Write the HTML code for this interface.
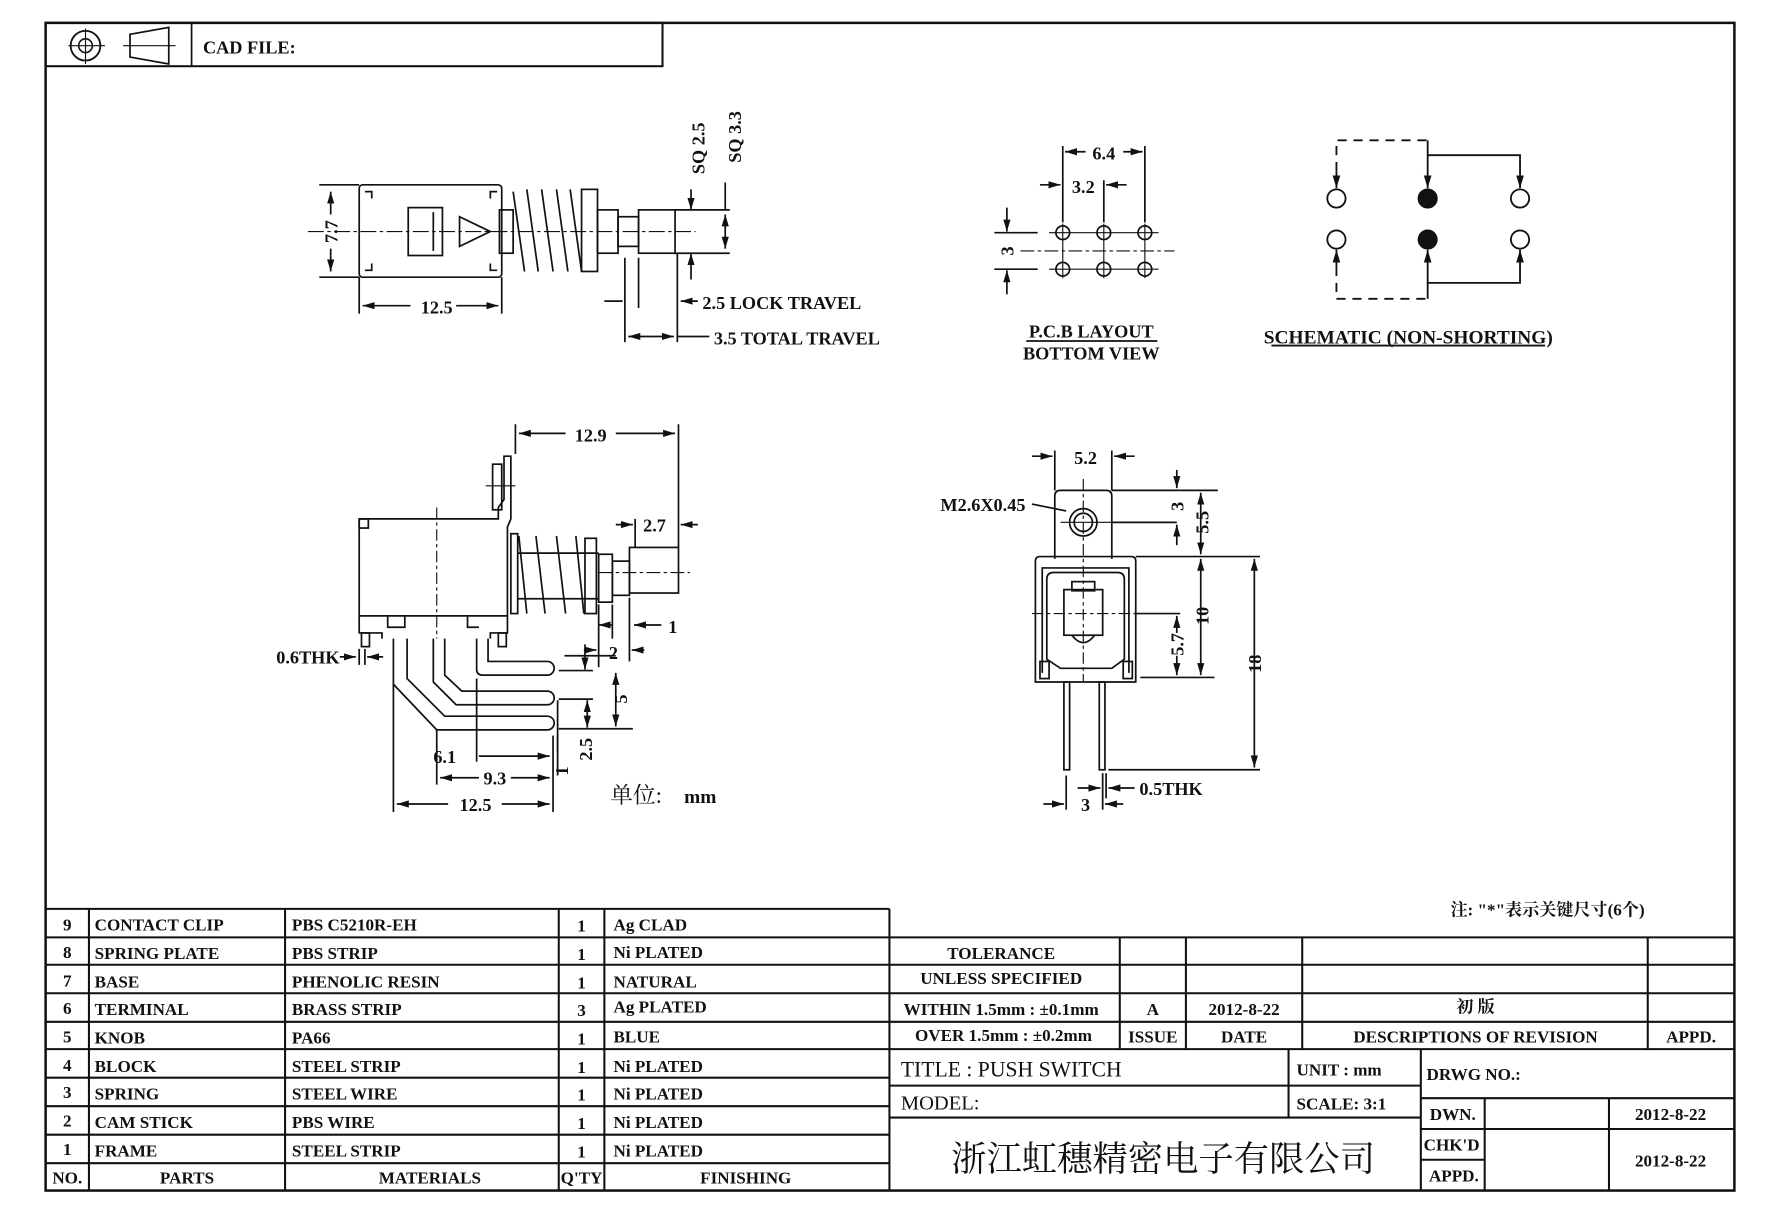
<!DOCTYPE html>
<html><head><meta charset="utf-8"><style>
html,body{margin:0;padding:0;background:#fff;}
svg{display:block;}
text{font-family:"Liberation Serif","Noto Serif CJK SC",serif;font-weight:bold;fill:#111;}
</style></head><body>
<svg width="1788" height="1218" viewBox="0 0 1568 1068" xmlns="http://www.w3.org/2000/svg">
<defs>
<marker id="a" viewBox="0 0 10 10" refX="10" refY="5" markerWidth="7" markerHeight="7" orient="auto-start-reverse"><path d="M0,2 L10,5 L0,8 z" fill="#111"/></marker>
</defs>
<rect width="1568" height="1068" fill="#fff"/>
<g stroke="#111" fill="none">
<rect x="40" y="20" width="1481" height="1024" stroke-width="2.2"/>
<rect x="40" y="20" width="541" height="38" stroke-width="1.8"/>
<line x1="168" y1="20" x2="168" y2="58" stroke-width="1.5"/>
<circle cx="75" cy="40" r="13" stroke-width="1.6"/><circle cx="75" cy="40" r="6" stroke-width="1.4"/>
<line x1="60" y1="40" x2="92" y2="40"/><line x1="75" y1="25" x2="75" y2="56"/>
<path d="M114,30 L148,24 L148,56 L114,50 Z" stroke-width="1.5"/><line x1="108" y1="40" x2="154" y2="40"/>

<g stroke-width="1.8">
<line x1="40" y1="797" x2="780" y2="797"/>
<line x1="40" y1="822" x2="1521" y2="822"/>
<line x1="40" y1="846" x2="1521" y2="846"/>
<line x1="40" y1="871" x2="1521" y2="871"/>
<line x1="40" y1="896" x2="1521" y2="896"/>
<line x1="40" y1="920" x2="1521" y2="920"/>
<line x1="40" y1="945" x2="780" y2="945"/>
<line x1="40" y1="970" x2="780" y2="970"/>
<line x1="40" y1="995" x2="780" y2="995"/>
<line x1="40" y1="1020" x2="780" y2="1020"/>
<line x1="78" y1="797" x2="78" y2="1044"/>
<line x1="250" y1="797" x2="250" y2="1044"/>
<line x1="490" y1="797" x2="490" y2="1044"/>
<line x1="530" y1="797" x2="530" y2="1044"/>
<line x1="780" y1="797" x2="780" y2="1044"/>
<line x1="982" y1="822" x2="982" y2="920"/>
<line x1="1040" y1="822" x2="1040" y2="920"/>
<line x1="1142" y1="822" x2="1142" y2="920"/>
<line x1="1445" y1="822" x2="1445" y2="920"/>
<line x1="780" y1="952" x2="1246" y2="952"/>
<line x1="780" y1="980" x2="1246" y2="980"/>
<line x1="1130" y1="920" x2="1130" y2="980"/>
<line x1="1246" y1="920" x2="1246" y2="1044"/>
<line x1="1246" y1="963" x2="1521" y2="963"/>
<line x1="1246" y1="990" x2="1521" y2="990"/>
<line x1="1246" y1="1017" x2="1302" y2="1017"/>
<line x1="1302" y1="963" x2="1302" y2="1044"/>
<line x1="1411" y1="963" x2="1411" y2="1044"/>
</g>
</g>
<rect x="782" y="848" width="198" height="21" fill="#fff"/>

<g font-size="15">
<text x="59" y="816" text-anchor="middle">9</text><text x="83" y="816">CONTACT CLIP</text><text x="256" y="816">PBS C5210R-EH</text><text x="510" y="817" text-anchor="middle">1</text><text x="538" y="816">Ag CLAD</text>
<text x="59" y="840" text-anchor="middle">8</text><text x="83" y="841">SPRING PLATE</text><text x="256" y="841">PBS STRIP</text><text x="510" y="842" text-anchor="middle">1</text><text x="538" y="840">Ni PLATED</text>
<text x="59" y="865" text-anchor="middle">7</text><text x="83" y="866">BASE</text><text x="256" y="866">PHENOLIC RESIN</text><text x="510" y="867" text-anchor="middle">1</text><text x="538" y="866">NATURAL</text>
<text x="59" y="889" text-anchor="middle">6</text><text x="83" y="890">TERMINAL</text><text x="256" y="890">BRASS STRIP</text><text x="510" y="891" text-anchor="middle">3</text><text x="538" y="888">Ag PLATED</text>
<text x="59" y="914" text-anchor="middle">5</text><text x="83" y="915">KNOB</text><text x="256" y="915">PA66</text><text x="510" y="916" text-anchor="middle">1</text><text x="538" y="914">BLUE</text>
<text x="59" y="939" text-anchor="middle">4</text><text x="83" y="940">BLOCK</text><text x="256" y="940">STEEL STRIP</text><text x="510" y="941" text-anchor="middle">1</text><text x="538" y="940">Ni PLATED</text>
<text x="59" y="963" text-anchor="middle">3</text><text x="83" y="964">SPRING</text><text x="256" y="964">STEEL WIRE</text><text x="510" y="965" text-anchor="middle">1</text><text x="538" y="964">Ni PLATED</text>
<text x="59" y="988" text-anchor="middle">2</text><text x="83" y="989">CAM STICK</text><text x="256" y="989">PBS WIRE</text><text x="510" y="990" text-anchor="middle">1</text><text x="538" y="989">Ni PLATED</text>
<text x="59" y="1013" text-anchor="middle">1</text><text x="83" y="1014">FRAME</text><text x="256" y="1014">STEEL STRIP</text><text x="510" y="1015" text-anchor="middle">1</text><text x="538" y="1014">Ni PLATED</text>
<text x="59" y="1038" text-anchor="middle">NO.</text><text x="164" y="1038" text-anchor="middle">PARTS</text><text x="377" y="1038" text-anchor="middle">MATERIALS</text><text x="510" y="1038" text-anchor="middle">Q'TY</text><text x="654" y="1038" text-anchor="middle">FINISHING</text>

<text x="878" y="841" text-anchor="middle">TOLERANCE</text>
<text x="878" y="863" text-anchor="middle">UNLESS  SPECIFIED</text>
<text x="878" y="890" text-anchor="middle">WITHIN 1.5mm : ±0.1mm</text>
<text x="880" y="913" text-anchor="middle">OVER 1.5mm : ±0.2mm</text>
<text x="1011" y="890" text-anchor="middle">A</text><text x="1011" y="914" text-anchor="middle">ISSUE</text>
<text x="1091" y="890" text-anchor="middle">2012-8-22</text><text x="1091" y="914" text-anchor="middle">DATE</text>
<text x="1294" y="888" text-anchor="middle">初 版</text>
<text x="1294" y="914" text-anchor="middle">DESCRIPTIONS OF REVISION</text>
<text x="1483" y="914" text-anchor="middle">APPD.</text>
<text x="790" y="944" style="font-size:19px;font-weight:normal">TITLE : PUSH SWITCH</text>
<text x="790" y="973" style="font-size:18px;font-weight:normal">MODEL:</text>
<text x="1137" y="943">UNIT :  mm</text>
<text x="1137" y="973">SCALE:  3:1</text>
<text x="1251" y="947">DRWG NO.:</text>
<text x="1274" y="982" text-anchor="middle">DWN.</text>
<text x="1273" y="1009" text-anchor="middle">CHK'D</text>
<text x="1275" y="1036" text-anchor="middle">APPD.</text>
<text x="1465" y="982" text-anchor="middle">2012-8-22</text>
<text x="1465" y="1023" text-anchor="middle">2012-8-22</text>
<text x="1020" y="1027" text-anchor="middle" style="font-size:31px;font-weight:normal;font-family:'Noto Serif CJK SC',serif">浙江虹穗精密电子有限公司</text>
<text x="1272" y="803">注: "*"表示关键尺寸(6个)</text>
<text x="178" y="47" font-size="16">CAD FILE:</text>
</g>

<!-- TOP-LEFT VIEW -->
<g stroke="#111" fill="none" stroke-width="1.5">
<rect x="315" y="162" width="125" height="81" rx="3"/>
<path d="M320,168 h6 v6 M436,168 h-6 v6 M320,237 h6 v-6 M436,237 h-6 v-6"/>
<rect x="358" y="182" width="30" height="42"/><line x1="380" y1="186" x2="380" y2="220"/>
<path d="M403,190 L430,203 L403,216 Z"/>
<rect x="438" y="184" width="12" height="38"/>
<path d="M450,168 L460,238 M462,166 L472,238 M475,166 L485,238 M488,166 L498,238 M500,166 L510,238"/>
<rect x="510" y="166" width="14" height="72"/>
<rect x="524" y="184" width="18" height="38"/>
<rect x="542" y="190" width="18" height="26"/>
<rect x="560" y="184" width="32" height="38"/>
<line x1="270" y1="203" x2="610" y2="203" stroke-dasharray="14,3,3,3" stroke-width="1"/>
<line x1="280" y1="162" x2="315" y2="162"/><line x1="280" y1="243" x2="315" y2="243"/>
<line x1="290" y1="168" x2="290" y2="188" marker-start="url(#a)"/><line x1="290" y1="218" x2="290" y2="238" marker-end="url(#a)"/>
<line x1="315" y1="243" x2="315" y2="275"/><line x1="440" y1="243" x2="440" y2="275"/>
<line x1="318" y1="268" x2="360" y2="268" marker-start="url(#a)"/><line x1="400" y1="268" x2="437" y2="268" marker-end="url(#a)"/>
<line x1="592" y1="184" x2="640" y2="184"/><line x1="592" y1="222" x2="640" y2="222"/>
<line x1="606" y1="166" x2="606" y2="184" marker-end="url(#a)"/><line x1="606" y1="222" x2="606" y2="245" marker-start="url(#a)"/>
<line x1="636" y1="160" x2="636" y2="184"/><line x1="636" y1="188" x2="636" y2="218" marker-start="url(#a)" marker-end="url(#a)"/>
<line x1="548" y1="226" x2="548" y2="300"/><line x1="560" y1="226" x2="560" y2="270"/><line x1="594" y1="222" x2="594" y2="300"/>
<line x1="530" y1="264" x2="546" y2="264"/><line x1="597" y1="264" x2="612" y2="264" marker-start="url(#a)"/>
<line x1="551" y1="295" x2="591" y2="295" marker-start="url(#a)" marker-end="url(#a)"/><line x1="594" y1="295" x2="622" y2="295"/>
</g>
<g font-size="16">
<text x="383" y="275" text-anchor="middle">12.5</text>
<text transform="translate(296,203) rotate(-90)" text-anchor="middle">7.7</text>
<text transform="translate(618,130) rotate(-90)" text-anchor="middle">SQ 2.5</text>
<text transform="translate(650,120) rotate(-90)" text-anchor="middle">SQ 3.3</text>
<text x="616" y="271">2.5 LOCK TRAVEL</text>
<text x="626" y="302">3.5 TOTAL TRAVEL</text>
</g>

<!-- PCB -->
<g stroke="#111" fill="none" stroke-width="1.5">
<circle cx="932" cy="204" r="6"/><circle cx="968" cy="204" r="6"/><circle cx="1004" cy="204" r="6"/>
<circle cx="932" cy="236" r="6"/><circle cx="968" cy="236" r="6"/><circle cx="1004" cy="236" r="6"/>
<path d="M932,196 v48 M968,196 v48 M1004,196 v48 M920,204 h96 M920,236 h96" stroke-width="1"/>
<line x1="895" y1="220" x2="1030" y2="220" stroke-dasharray="12,3,3,3" stroke-width="1"/>
<line x1="872" y1="204" x2="910" y2="204"/><line x1="872" y1="236" x2="910" y2="236"/>
<line x1="883" y1="182" x2="883" y2="203" marker-end="url(#a)"/><line x1="883" y1="258" x2="883" y2="237" marker-end="url(#a)"/>
<line x1="932" y1="128" x2="932" y2="195"/><line x1="1004" y1="128" x2="1004" y2="195"/><line x1="968" y1="158" x2="968" y2="195"/>
<line x1="934" y1="133" x2="952" y2="133" marker-start="url(#a)"/><line x1="985" y1="133" x2="1002" y2="133" marker-end="url(#a)"/>
<line x1="912" y1="162" x2="930" y2="162" marker-end="url(#a)"/><line x1="988" y1="162" x2="970" y2="162" marker-end="url(#a)"/>
<line x1="900" y1="299" x2="1015" y2="299"/>
</g>
<g font-size="16"><text x="968" y="140" text-anchor="middle">6.4</text><text x="950" y="169" text-anchor="middle">3.2</text>
<text transform="translate(889,220) rotate(-90)" text-anchor="middle">3</text>
<text x="957" y="296" text-anchor="middle">P.C.B LAYOUT</text><text x="957" y="315" text-anchor="middle">BOTTOM VIEW</text></g>

<!-- SCHEMATIC -->
<g stroke="#111" fill="none" stroke-width="1.6">
<circle cx="1172" cy="174" r="8"/><circle cx="1333" cy="174" r="8"/><circle cx="1172" cy="210" r="8"/><circle cx="1333" cy="210" r="8"/>
<circle cx="1252" cy="174" r="8" fill="#111"/><circle cx="1252" cy="210" r="8" fill="#111"/>
<path d="M1172,150 V123 H1252" stroke-dasharray="8,6"/>
<path d="M1172,234 V262 H1252" stroke-dasharray="8,6"/>
<line x1="1172" y1="150" x2="1172" y2="165" marker-end="url(#a)"/>
<line x1="1172" y1="234" x2="1172" y2="219" marker-end="url(#a)"/>
<line x1="1252" y1="123" x2="1252" y2="165" marker-end="url(#a)"/>
<line x1="1252" y1="262" x2="1252" y2="219" marker-end="url(#a)"/>
<path d="M1252,136 H1333 V140"/><line x1="1333" y1="140" x2="1333" y2="165" marker-end="url(#a)"/>
<path d="M1252,248 H1333 V244"/><line x1="1333" y1="244" x2="1333" y2="219" marker-end="url(#a)"/>
<line x1="1115" y1="303" x2="1355" y2="303"/>
</g>
<text x="1235" y="301" text-anchor="middle" font-size="17">SCHEMATIC (NON-SHORTING)</text>

<!-- SIDE VIEW -->
<g stroke="#111" fill="none" stroke-width="1.5">
<path d="M315,455 H437 L437,445 L442,438 L442,400 L448,400 L448,455 L445,462 H445 V540 H315 Z"/>
<rect x="432" y="407" width="8" height="40"/>
<line x1="426" y1="426" x2="452" y2="426" stroke-width="1"/>
<rect x="315" y="455" width="8" height="8"/>
<line x1="383" y1="445" x2="383" y2="560" stroke-dasharray="10,3,3,3" stroke-width="1"/>
<path d="M315,540 V555 H335 V560 M445,540 V555 H430 V560 M340,540 V550 H355 V540 M410,540 V550 H420"/>
<rect x="317" y="555" width="7" height="12"/><rect x="437" y="555" width="7" height="12"/>
<rect x="448" y="468" width="6" height="70"/>
<path d="M455,470 L462,538 M470,470 L478,538 M488,470 L496,538 M505,470 L512,538"/>
<line x1="454" y1="485" x2="525" y2="485"/><line x1="454" y1="525" x2="525" y2="525"/>
<rect x="513" y="472" width="10" height="66"/>
<rect x="525" y="486" width="12" height="42"/><rect x="537" y="492" width="15" height="30"/>
<rect x="552" y="480" width="43" height="40"/>
<line x1="525" y1="502" x2="605" y2="502" stroke-dasharray="12,3,3,3" stroke-width="1"/>
<path d="M345,560 V600 L383,640 H480 A6,6 0 0 0 480,628 H390 L357,595 V560" />
<path d="M380,560 V598 L400,618 H480 A6,6 0 0 0 480,606 H405 L390,592 V560"/>
<path d="M418,560 V587 Q418,592 423,592 H480 A6,6 0 0 0 480,580 H428 V560"/>
<line x1="452" y1="372" x2="452" y2="398"/><line x1="595" y1="372" x2="595" y2="480"/>
<line x1="455" y1="380" x2="496" y2="380" marker-start="url(#a)"/><line x1="540" y1="380" x2="592" y2="380" marker-end="url(#a)"/>
<line x1="557" y1="455" x2="557" y2="480"/>
<line x1="540" y1="460" x2="555" y2="460" marker-end="url(#a)"/><line x1="612" y1="460" x2="597" y2="460" marker-end="url(#a)"/>
<line x1="537" y1="530" x2="537" y2="560"/><line x1="552" y1="524" x2="552" y2="580"/><line x1="525" y1="530" x2="525" y2="585"/>
<line x1="537" y1="548" x2="525" y2="548" marker-end="url(#a)"/><line x1="580" y1="548" x2="556" y2="548" marker-end="url(#a)"/>
<line x1="512" y1="570" x2="523" y2="570" marker-end="url(#a)"/><line x1="565" y1="570" x2="554" y2="570" marker-end="url(#a)"/>
<line x1="490" y1="588" x2="520" y2="588"/><line x1="490" y1="613" x2="520" y2="613"/><line x1="490" y1="639" x2="555" y2="639"/>
<line x1="495" y1="575" x2="540" y2="575"/>
<line x1="513" y1="565" x2="513" y2="587" marker-end="url(#a)"/>
<line x1="540" y1="590" x2="540" y2="637" marker-start="url(#a)" marker-end="url(#a)"/>
<line x1="489" y1="614" x2="489" y2="660"/><line x1="515" y1="614" x2="515" y2="638" marker-start="url(#a)" marker-end="url(#a)"/>
<line x1="489" y1="645" x2="489" y2="680"/>
<line x1="298" y1="576" x2="312" y2="576" marker-end="url(#a)"/><line x1="336" y1="576" x2="322" y2="576" marker-end="url(#a)"/>
<line x1="315" y1="569" x2="315" y2="583"/><line x1="320" y1="569" x2="320" y2="583"/>
<line x1="345" y1="600" x2="345" y2="712"/><line x1="383" y1="640" x2="383" y2="688"/><line x1="418" y1="595" x2="418" y2="668"/><line x1="485" y1="645" x2="485" y2="712"/>
<line x1="420" y1="663" x2="482" y2="663" marker-end="url(#a)"/>
<line x1="386" y1="682" x2="420" y2="682" marker-start="url(#a)"/><line x1="448" y1="682" x2="482" y2="682" marker-end="url(#a)"/>
<line x1="348" y1="705" x2="393" y2="705" marker-start="url(#a)"/><line x1="440" y1="705" x2="482" y2="705" marker-end="url(#a)"/>
</g>
<g font-size="16">
<text x="518" y="387" text-anchor="middle">12.9</text>
<text x="574" y="466" text-anchor="middle">2.7</text>
<text x="590" y="555" text-anchor="middle">1</text>
<text x="538" y="578" text-anchor="middle">2</text>
<text transform="translate(550,613) rotate(-90)" text-anchor="middle">5</text>
<text transform="translate(519,657) rotate(-90)" text-anchor="middle">2.5</text>
<text transform="translate(498,676) rotate(-90)" text-anchor="middle">1</text>
<text x="270" y="582" text-anchor="middle">0.6THK</text>
<text x="390" y="669" text-anchor="middle">6.1</text>
<text x="434" y="688" text-anchor="middle">9.3</text>
<text x="417" y="711" text-anchor="middle">12.5</text>
<text x="535" y="704" style="font-size:20px;font-weight:normal">单位:</text><text x="600" y="704" font-size="17">mm</text>
</g>

<!-- FRONT VIEW -->
<g stroke="#111" fill="none" stroke-width="1.5">
<path d="M925,490 V435 Q925,430 930,430 H970 Q975,430 975,435 V490"/>
<circle cx="950" cy="458" r="12"/><circle cx="950" cy="458" r="8"/>
<path d="M908,598 V492 Q908,488 912,488 H992 Q996,488 996,492 V598 Z"/>
<path d="M914,590 V498 H990 V590"/>
<path d="M918,578 V508 Q918,502 924,502 H980 Q986,502 986,508 V578 L975,586 H930 Z"/>
<rect x="933" y="517" width="34" height="40"/><rect x="940" y="510" width="20" height="8"/>
<path d="M940,557 Q950,570 960,557"/>
<rect x="912" y="580" width="8" height="15"/><rect x="985" y="580" width="8" height="15"/>
<rect x="933" y="598" width="5" height="77"/><rect x="964" y="598" width="5" height="77"/>
<line x1="950" y1="420" x2="950" y2="598" stroke-dasharray="10,3,3,3" stroke-width="1"/>
<line x1="930" y1="458" x2="976" y2="458" stroke-width="1"/>
<line x1="905" y1="538" x2="1000" y2="538" stroke-dasharray="10,3,3,3" stroke-width="1"/>
<line x1="905" y1="442" x2="935" y2="448"/>
<line x1="925" y1="395" x2="925" y2="430"/><line x1="975" y1="395" x2="975" y2="430"/>
<line x1="905" y1="400" x2="923" y2="400" marker-end="url(#a)"/><line x1="995" y1="400" x2="977" y2="400" marker-end="url(#a)"/>
<line x1="975" y1="430" x2="1068" y2="430"/><line x1="975" y1="458" x2="1032" y2="458"/>
<line x1="996" y1="488" x2="1105" y2="488"/><line x1="995" y1="538" x2="1035" y2="538"/>
<line x1="1000" y1="594" x2="1065" y2="594"/><line x1="972" y1="675" x2="1105" y2="675"/>
<line x1="1032" y1="412" x2="1032" y2="428" marker-end="url(#a)"/><line x1="1032" y1="478" x2="1032" y2="460" marker-end="url(#a)"/>
<line x1="1053" y1="432" x2="1053" y2="486" marker-start="url(#a)" marker-end="url(#a)"/>
<line x1="1053" y1="490" x2="1053" y2="592" marker-start="url(#a)" marker-end="url(#a)"/>
<line x1="1032" y1="540" x2="1032" y2="555" marker-start="url(#a)"/><line x1="1032" y1="575" x2="1032" y2="592" marker-end="url(#a)"/>
<line x1="1100" y1="490" x2="1100" y2="673" marker-start="url(#a)" marker-end="url(#a)"/>
<line x1="935" y1="680" x2="935" y2="710"/><line x1="967" y1="678" x2="967" y2="710"/><line x1="970" y1="678" x2="970" y2="700"/>
<line x1="915" y1="705" x2="933" y2="705" marker-end="url(#a)"/><line x1="985" y1="705" x2="969" y2="705" marker-end="url(#a)"/>
<line x1="945" y1="691" x2="965" y2="691" marker-end="url(#a)"/><line x1="995" y1="691" x2="972" y2="691" marker-end="url(#a)"/>
</g>
<g font-size="16">
<text x="952" y="407" text-anchor="middle">5.2</text>
<text x="862" y="448" text-anchor="middle">M2.6X0.45</text>
<text transform="translate(1038,444) rotate(-90)" text-anchor="middle">3</text>
<text transform="translate(1060,458) rotate(-90)" text-anchor="middle">5.5</text>
<text transform="translate(1060,540) rotate(-90)" text-anchor="middle">10</text>
<text transform="translate(1038,565) rotate(-90)" text-anchor="middle">5.7</text>
<text transform="translate(1106,582) rotate(-90)" text-anchor="middle">18</text>
<text x="1027" y="697" text-anchor="middle">0.5THK</text>
<text x="952" y="711" text-anchor="middle">3</text>
</g>
</svg>
</body></html>
